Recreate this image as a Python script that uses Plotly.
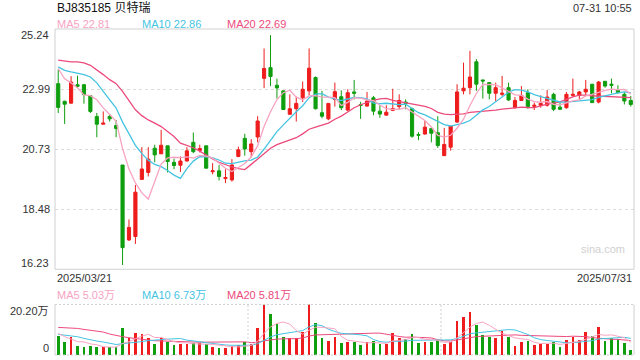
import pandas as pd
import plotly.graph_objects as go

# ---------------- data ----------------
title_text = "BJ835185 贝特瑞"
time_text = "07-31 10:55"
holidays = ["2025-04-04", "2025-05-01", "2025-05-02", "2025-05-05", "2025-06-02"]
dates = [d.strftime("%Y/%m/%d") for d in pd.bdate_range("2025-03-21", "2025-07-31")
         if d.strftime("%Y-%m-%d") not in holidays]

opens = [23.19, 22.53, 22.46, 23.15, 23.15, 22.74, 21.96, 21.67, 21.96, 21.62,
         20.14, 17.33, 17.46, 19.60, 19.86, 20.77, 20.56, 20.86, 20.24, 20.13,
         20.29, 20.99, 20.68, 20.86, 19.89, 19.92, 19.63, 19.58, 20.46, 21.14,
         20.64, 21.19, 23.39, 23.79, 23.13, 22.92, 22.04, 22.25, 22.66, 22.92,
         23.42, 22.10, 21.87, 22.60, 22.70, 22.20, 22.88, 22.40, 22.35, 22.66,
         22.16, 22.01, 22.19, 22.33, 22.50, 22.25, 21.28, 21.30, 21.51, 21.35,
         20.49, 20.81, 21.75, 22.92, 23.04, 24.01, 23.33, 23.23, 22.83, 22.79,
         23.04, 22.29, 22.56, 22.85, 22.34, 22.38, 22.38, 22.79, 22.31, 22.29,
         22.75, 22.75, 22.88, 23.17, 22.50, 23.28, 23.17, 22.95, 22.79, 22.56]
highs = [23.72, 22.55, 23.47, 23.49, 23.18, 22.74, 22.09, 22.15, 22.05, 21.83,
         20.14, 18.10, 19.39, 20.81, 20.81, 20.90, 21.46, 20.86, 20.38, 20.46,
         20.81, 21.36, 20.90, 20.86, 20.21, 20.14, 19.98, 20.36, 20.83, 21.31,
         21.11, 21.97, 24.51, 25.01, 23.38, 22.92, 22.79, 22.70, 23.27, 24.51,
         23.46, 22.92, 22.45, 23.23, 22.94, 22.98, 23.33, 22.51, 22.88, 22.73,
         22.38, 22.38, 23.00, 22.79, 22.60, 22.29, 21.37, 21.79, 21.51, 21.97,
         21.53, 21.60, 23.17, 23.98, 24.42, 24.11, 23.33, 23.23, 23.23, 23.48,
         23.23, 22.69, 23.10, 22.98, 22.48, 22.75, 22.95, 22.85, 22.48, 22.88,
         23.38, 22.92, 23.33, 23.17, 23.29, 23.28, 23.38, 23.13, 22.88, 22.73]
lows = [22.09, 21.68, 22.44, 23.03, 22.44, 22.09, 21.18, 21.67, 21.77, 21.18,
        16.39, 17.29, 17.18, 19.58, 19.71, 20.24, 20.56, 19.86, 19.98, 19.88,
        20.27, 20.58, 20.61, 20.02, 19.79, 19.56, 19.46, 19.52, 20.43, 20.49,
        20.43, 20.99, 23.02, 23.10, 22.63, 22.20, 22.04, 21.77, 22.50, 22.75,
        22.22, 21.89, 21.82, 22.33, 22.20, 22.16, 22.60, 21.87, 22.33, 22.01,
        21.91, 22.00, 22.16, 22.23, 22.23, 21.16, 21.07, 21.28, 20.99, 20.78,
        20.49, 20.68, 21.72, 22.79, 22.79, 22.92, 22.63, 22.60, 22.54, 22.73,
        22.54, 22.26, 22.54, 22.25, 22.20, 22.29, 22.33, 22.16, 22.20, 22.25,
        22.70, 22.60, 22.73, 22.48, 22.45, 23.04, 22.83, 22.83, 22.41, 22.33]
closes = [22.30, 22.42, 23.25, 23.09, 22.78, 22.15, 21.67, 21.71, 21.87, 21.51,
          17.04, 17.80, 19.12, 19.99, 20.36, 20.52, 20.88, 20.27, 20.12, 20.29,
          20.67, 20.64, 20.76, 20.02, 19.92, 19.71, 19.67, 20.14, 20.71, 20.74,
          20.93, 21.79, 23.76, 23.46, 23.03, 22.22, 22.25, 22.45, 22.98, 23.77,
          22.25, 21.97, 22.45, 22.89, 22.29, 22.85, 22.83, 22.38, 22.54, 22.16,
          22.05, 22.12, 22.26, 22.56, 22.45, 21.22, 21.26, 21.56, 21.33, 20.87,
          20.91, 21.60, 22.88, 23.02, 23.44, 23.17, 23.29, 22.83, 23.04, 22.83,
          22.58, 22.56, 22.75, 22.33, 22.38, 22.45, 22.69, 22.23, 22.23, 22.79,
          22.79, 22.88, 22.98, 22.48, 23.25, 23.10, 23.13, 22.85, 22.54, 22.41]
# volume in 万 (10k shares)
volumes = [7.58, 4.92, 6.91, 3.59, 3.19, 3.59, 3.19, 2.92, 2.92, 3.19,
           10.77, 6.78, 8.77, 8.37, 6.65, 4.39, 6.78, 4.92, 3.99, 4.39,
           4.39, 4.65, 4.65, 4.39, 3.19, 2.79, 2.79, 3.59, 3.72, 5.18,
           4.12, 10.77, 19.67, 16.35, 12.09, 7.04, 6.65, 6.65, 9.04, 20.20,
           12.76, 6.78, 5.58, 7.18, 4.78, 5.18, 5.18, 3.99, 4.92, 5.58,
           4.39, 4.39, 8.77, 6.78, 6.25, 8.37, 4.78, 5.18, 5.18, 5.85,
           4.39, 5.18, 13.56, 15.15, 17.14, 11.96, 7.97, 7.18, 6.78, 9.57,
           7.18, 3.59, 5.18, 5.58, 3.99, 4.39, 4.39, 5.18, 3.19, 5.98,
           7.18, 5.98, 9.17, 7.58, 11.16, 5.58, 6.78, 6.38, 4.78, 1.99]

# moving-average values for the first bars (history before the window)
ma5_warm = [23.76, 23.37, 23.22, 23.03]
ma10_warm = [23.82, 23.69, 23.63, 23.57, 23.53, 23.44, 23.22, 22.90, 22.59]
ma20_warm = [24.07, 24.03, 24.01, 24.01, 23.97, 23.88, 23.72, 23.53, 23.34, 23.19,
             22.90, 22.53, 22.21, 21.99, 21.83, 21.71, 21.58, 21.40, 21.21]
vma5_warm = [8.64, 7.31, 6.38, 5.32]
vma10_warm = [8.24, 7.97, 7.71, 7.31, 6.65, 5.98, 5.58, 5.18, 4.78]
vma20_warm = [11.03, 10.90, 10.90, 10.63, 10.23, 9.97, 9.57, 9.17, 8.37, 7.71,
              7.31, 6.91, 6.51, 6.25, 5.98, 5.71, 5.58, 5.58, 5.45]

price_ticks = ["25.24", "22.99", "20.73", "18.48", "16.23"]
price_min, price_max = 16.23, 25.24
vol_max = 20.20
vol_ticks = ["20.20万", "0"]
ma_legend = ["MA5 22.81", "MA10 22.86", "MA20 22.69"]
vma_legend = ["MA5 5.03万", "MA10 6.73万", "MA20 5.81万"]

# ---------------- styling ----------------
RED = "#ee1c1c"
GREEN = "#0e9e0e"
C_MA5 = "#f7a3c2"
C_MA10 = "#45c4e2"
C_MA20 = "#ec4a7c"
FONT = "Liberation Sans, Arial, Noto Sans CJK SC, sans-serif"
GRID = "#dcdcdc"
BORDER = "#d0d0d0"


def moving_avg(values, n, warm):
    s = pd.Series(values).rolling(n).mean().tolist()
    return list(warm) + s[n - 1:]


ma5 = moving_avg(closes, 5, ma5_warm)
ma10 = moving_avg(closes, 10, ma10_warm)
ma20 = moving_avg(closes, 20, ma20_warm)
vma5 = moving_avg(volumes, 5, vma5_warm)
vma10 = moving_avg(volumes, 10, vma10_warm)
vma20 = moving_avg(volumes, 20, vma20_warm)

vol_colors = [RED if c > o else GREEN for o, c in zip(opens, closes)]

fig = go.Figure()
fig.add_trace(go.Candlestick(
    x=dates, open=opens, high=highs, low=lows, close=closes,
    increasing=dict(line=dict(color=RED, width=1), fillcolor=RED),
    decreasing=dict(line=dict(color=GREEN, width=1), fillcolor=GREEN),
    whiskerwidth=0, xaxis="x", yaxis="y", showlegend=False, hoverinfo="skip"))
for vals, col in [(ma20, C_MA20), (ma10, C_MA10), (ma5, C_MA5)]:
    fig.add_trace(go.Scatter(x=dates, y=vals, mode="lines", line=dict(color=col, width=1.3),
                             xaxis="x", yaxis="y", showlegend=False, hoverinfo="skip"))

fig.add_trace(go.Bar(x=dates, y=volumes, marker=dict(color=vol_colors, line=dict(width=0)),
                     width=0.42, xaxis="x2", yaxis="y2", showlegend=False, hoverinfo="skip"))
for vals, col in [(vma20, C_MA20), (vma10, C_MA10), (vma5, C_MA5)]:
    fig.add_trace(go.Scatter(x=dates, y=vals, mode="lines", line=dict(color=col, width=1),
                             xaxis="x2", yaxis="y2", showlegend=False, hoverinfo="skip"))

MAIN_BOTTOM = 0.263
VOL_TOP = 0.155
n = len(dates)
inner_vals = [price_min + (price_max - price_min) * k / 4 for k in (1, 2, 3)]

fig.update_layout(
    width=640, height=360,
    margin=dict(l=55, r=6, t=29, b=5),
    paper_bgcolor="white", plot_bgcolor="white",
    font=dict(family=FONT, size=11, color="#333"),
    showlegend=False,
    bargap=0,
    hovermode=False,
    xaxis=dict(type="category", range=[-0.5, n - 0.5], domain=[0, 1], anchor="y",
               showticklabels=False, showgrid=False, zeroline=False, rangeslider=dict(visible=False),
               fixedrange=True),
    yaxis=dict(range=[price_min, price_max], domain=[MAIN_BOTTOM, 1], anchor="x",
               tickvals=inner_vals, ticktext=price_ticks[3:0:-1], showticklabels=True,
               ticks="", ticklabelstandoff=4,
               showgrid=True, gridcolor=GRID, griddash="3px,3px", gridwidth=1, zeroline=False,
               tickfont=dict(size=11, color="#333")),
    xaxis2=dict(type="category", range=[-0.5, n - 0.5], domain=[0, 1], anchor="y2", matches="x",
                showticklabels=False, showgrid=False, zeroline=False),
    yaxis2=dict(range=[0, vol_max], domain=[0, VOL_TOP], anchor="x2",
                showticklabels=False, showgrid=False, zeroline=False),
)

shapes = []
# main panel frame
shapes.append(dict(type="rect", xref="paper", yref="paper", x0=0, x1=1, y0=MAIN_BOTTOM, y1=1,
                   line=dict(color=BORDER, width=1), layer="above"))
# volume panel frame
dot = dict(color=BORDER, width=1, dash="2px,2px")
shapes += [
    dict(type="line", xref="paper", yref="paper", x0=0, x1=1, y0=VOL_TOP, y1=VOL_TOP, line=dot),
    dict(type="line", xref="paper", yref="paper", x0=0, x1=1, y0=0, y1=0, line=dot),
    dict(type="line", xref="paper", yref="paper", x0=1 / 3, x1=1 / 3, y0=0, y1=VOL_TOP, line=dot),
    dict(type="line", xref="paper", yref="paper", x0=2 / 3, x1=2 / 3, y0=0, y1=VOL_TOP, line=dot),
    dict(type="line", xref="paper", yref="paper", x0=0, x1=0, y0=0, y1=VOL_TOP,
         line=dict(color=BORDER, width=1)),
    dict(type="line", xref="paper", yref="paper", x0=1, x1=1, y0=0, y1=VOL_TOP,
         line=dict(color=BORDER, width=1)),
]
fig.update_layout(shapes=shapes)

ann = []


def text(x, y, s, color="#333", size=11, xanchor="left", xref="paper", yref="paper",
         yshift=0, xshift=0):
    ann.append(dict(x=x, y=y, xref=xref, yref=yref, text=s, showarrow=False,
                    xanchor=xanchor, yanchor="middle", yshift=yshift, xshift=xshift,
                    font=dict(family=FONT, size=size, color=color)))


def py(ypix):
    # pixel row -> paper coordinate
    return (355 - ypix) / 326


text(0, py(7.5), title_text, color="#111", size=12)
text(1, py(7.5), time_text, color="#333", xanchor="right")
for s, xp, col in zip(ma_legend, [55, 140, 225], [C_MA5, C_MA10, C_MA20]):
    text((xp - 55) / 579, py(24), s, color=col)
for s, xp, col in zip(vma_legend, [55, 140, 225], [C_MA5, C_MA10, C_MA20]):
    text((xp - 55) / 579, py(295), s, color=col)
# outer price ticks (pulled inside the frame like the original)
text(0, price_max, price_ticks[0], xanchor="right", yref="y", yshift=-6, xshift=-4)
text(0, price_min, price_ticks[-1], xanchor="right", yref="y", yshift=6, xshift=-4)
# volume ticks
text(0, vol_max, vol_ticks[0], xanchor="right", yref="y2", yshift=-7, xshift=-4)
text(0, 0, vol_ticks[1], xanchor="right", yref="y2", yshift=7, xshift=-4)
# dates
text(0, py(277.5), dates[0], xanchor="left")
text(1, py(277.5), dates[-1], xanchor="right")
# watermark
text(0.988, py(249), "sina.com", color="#cfcfcf", size=11, xanchor="right")

fig.update_layout(annotations=ann)
fig.write_html("out.html", config={"displayModeBar": False},
               post_script="document.body.style.margin='0';document.body.style.overflow='hidden';")
